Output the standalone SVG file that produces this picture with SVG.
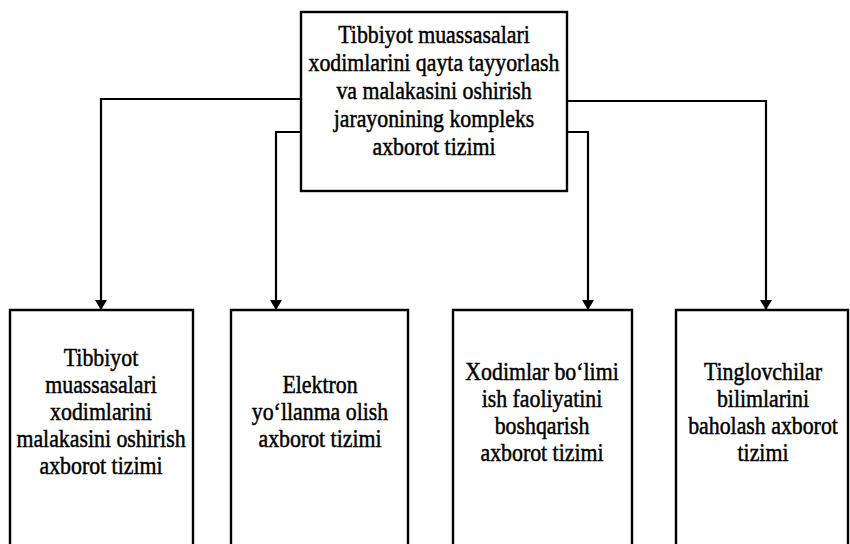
<svg xmlns="http://www.w3.org/2000/svg" width="850" height="544" viewBox="0 0 850 544">
  <style>
    .box { fill: #ffffff; stroke: #000000; stroke-width: 2.4; }
    .wire { fill: none; stroke: #000000; stroke-width: 2.2; }
    .label { font-family: "Liberation Serif", "Times New Roman", serif; font-size: 26px; fill: #000000; stroke: #000000; stroke-width: 0.5; text-anchor: middle; }
  </style>
  <defs>
    <marker id="arrow" viewBox="0 0 10 14" refX="10" refY="7" markerWidth="10" markerHeight="14" markerUnits="userSpaceOnUse" orient="auto">
      <path d="M0,1 L10,7 L0,13 Z" fill="#000000"/>
    </marker>
  </defs>
  <rect width="850" height="544" fill="#ffffff"/>

  <!-- connectors from the main system to the four subsystems -->
  <g id="connectors">
    <polyline class="wire" points="301,99 101,99 101,310" marker-end="url(#arrow)"/>
    <polyline class="wire" points="301,132 276,132 276,310" marker-end="url(#arrow)"/>
    <polyline class="wire" points="567,101 766,101 766,310" marker-end="url(#arrow)"/>
    <polyline class="wire" points="567,132 588,132 588,310" marker-end="url(#arrow)"/>
  </g>

  <!-- main system -->
  <g id="main">
    <rect class="box" x="301" y="12" width="266" height="179"/>
    <g transform="translate(434,0) scale(0.84,1)">
      <text class="label" x="0" y="43">Tibbiyot muassasalari</text>
      <text class="label" x="0" y="71">xodimlarini qayta tayyorlash</text>
      <text class="label" x="0" y="99">va malakasini oshirish</text>
      <text class="label" x="0" y="127">jarayonining kompleks</text>
      <text class="label" x="0" y="155">axborot tizimi</text>
    </g>
  </g>

  <!-- subsystems (boxes run past the lower edge) -->
  <g id="sub1">
    <path class="box" d="M10,548 V310 H193 V548"/>
    <g transform="translate(101,0) scale(0.84,1)">
      <text class="label" x="0" y="366">Tibbiyot</text>
      <text class="label" x="0" y="393">muassasalari</text>
      <text class="label" x="0" y="420">xodimlarini</text>
      <text class="label" x="0" y="447">malakasini oshirish</text>
      <text class="label" x="0" y="474">axborot tizimi</text>
    </g>
  </g>

  <g id="sub2">
    <path class="box" d="M231,548 V310 H408 V548"/>
    <g transform="translate(320,0) scale(0.84,1)">
      <text class="label" x="0" y="393">Elektron</text>
      <text class="label" x="0" y="420">yo‘llanma olish</text>
      <text class="label" x="0" y="447">axborot tizimi</text>
    </g>
  </g>

  <g id="sub3">
    <path class="box" d="M453,548 V310 H632 V548"/>
    <g transform="translate(542,0) scale(0.84,1)">
      <text class="label" x="0" y="380">Xodimlar bo‘limi</text>
      <text class="label" x="0" y="407">ish faoliyatini</text>
      <text class="label" x="0" y="434">boshqarish</text>
      <text class="label" x="0" y="461">axborot tizimi</text>
    </g>
  </g>

  <g id="sub4">
    <path class="box" d="M676,548 V310 H848 V548"/>
    <g transform="translate(763,0) scale(0.84,1)">
      <text class="label" x="0" y="380">Tinglovchilar</text>
      <text class="label" x="0" y="407">bilimlarini</text>
      <text class="label" x="0" y="434">baholash axborot</text>
      <text class="label" x="0" y="461">tizimi</text>
    </g>
  </g>
</svg>
